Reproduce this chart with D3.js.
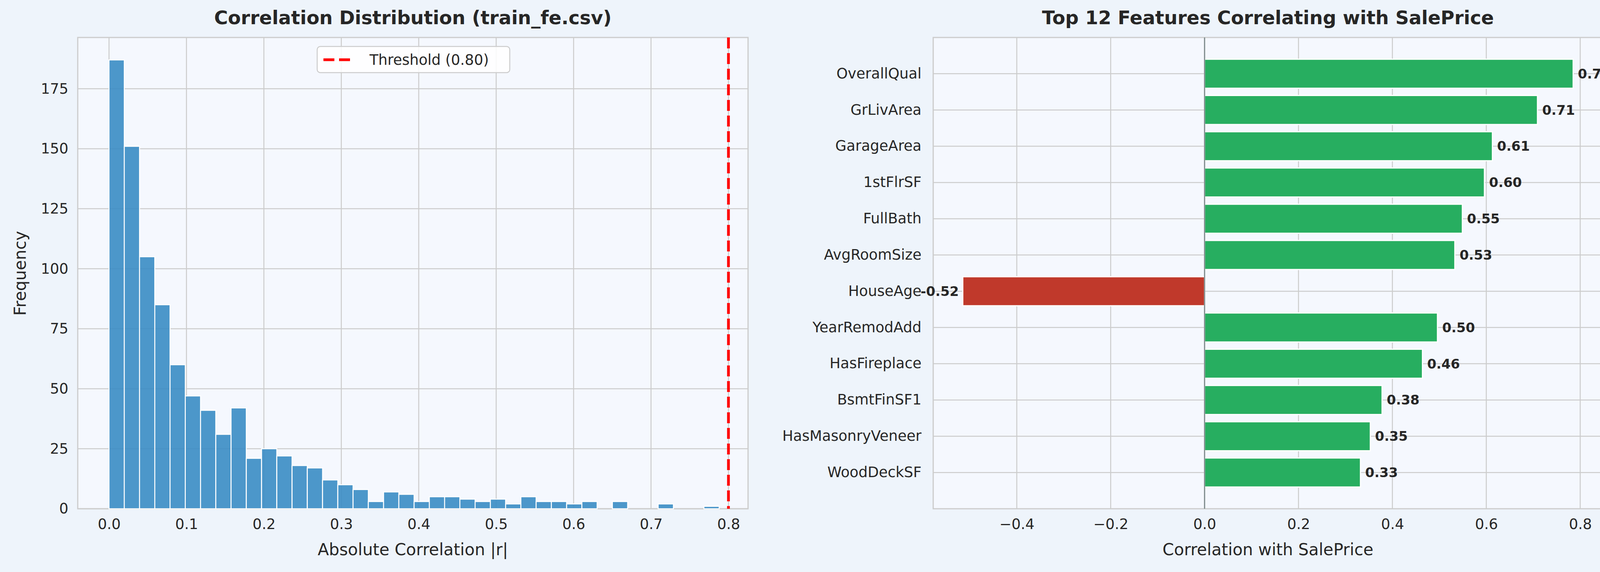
<!DOCTYPE html>
<html>
<head>
<meta charset="utf-8">
<script src="https://cdn.jsdelivr.net/npm/d3@7"></script>
<style>
  body { margin: 0; background: #eef4fb; }
  text { font-family: "DejaVu Sans", sans-serif; fill: #262626; }
</style>
</head>
<body>
<svg id="chart" width="4160" height="1465"></svg>
<script>
// histogram of |r| values, 40 bins
const binWidth = 0.0197;
const histCounts = [187, 151, 105, 85, 60, 47, 41, 31, 42, 21, 25, 22, 18, 17, 12, 10, 8, 3, 7, 6,
  3, 5, 5, 4, 3, 4, 2, 5, 3, 3, 2, 3, 0, 3, 0, 0, 2, 0, 0, 1];
const threshold = 0.8;
const histXTicks = [0, 0.1, 0.2, 0.3, 0.4, 0.5, 0.6, 0.7, 0.8];
const histYTicks = [0, 25, 50, 75, 100, 125, 150, 175];

// top features
const features = ["OverallQual", "GrLivArea", "GarageArea", "1stFlrSF", "FullBath", "AvgRoomSize",
  "HouseAge", "YearRemodAdd", "HasFireplace", "BsmtFinSF1", "HasMasonryVeneer", "WoodDeckSF"];
const corrValues = [0.785, 0.709, 0.613, 0.596, 0.549, 0.533, -0.515, 0.496, 0.464, 0.378, 0.353, 0.332];
const corrTicks = [-0.4, -0.2, 0, 0.2, 0.4, 0.6, 0.8];

const svg = d3.select("#chart");
const plotTop = 96, plotBottom = 1303;
const gridCol = "#cccccc";

function panel(x0, x1) {
  svg.append("rect").attr("x", x0).attr("y", plotTop).attr("width", x1 - x0).attr("height", plotBottom - plotTop)
    .attr("fill", "#f5f8fe").attr("stroke", gridCol).attr("stroke-width", 3);
}

// ---- left: histogram
const L0 = 199, L1 = 1915;
panel(L0, L1);
const hx = d3.scaleLinear().domain([-0.0404, 0.8253]).range([L0, L1]);
const hy = d3.scaleLinear().domain([0, 196.35]).range([plotBottom, plotTop]);
const gl = svg.append("g");
histXTicks.forEach(t => gl.append("line").attr("x1", hx(t)).attr("x2", hx(t)).attr("y1", plotTop).attr("y2", plotBottom)
  .attr("stroke", gridCol).attr("stroke-width", 2.5));
histYTicks.forEach(t => gl.append("line").attr("x1", L0).attr("x2", L1).attr("y1", hy(t)).attr("y2", hy(t))
  .attr("stroke", gridCol).attr("stroke-width", 2.5));

svg.append("g").selectAll("rect").data(histCounts).join("rect")
  .attr("x", (d, i) => hx(i * binWidth))
  .attr("width", hx(binWidth) - hx(0))
  .attr("y", d => hy(d))
  .attr("height", d => hy(0) - hy(d))
  .attr("fill", "#3a8cc4").attr("fill-opacity", 0.9)
  .attr("stroke", "#ffffff").attr("stroke-width", 2.5)
  .style("display", d => d > 0 ? null : "none");

svg.append("line").attr("x1", hx(threshold)).attr("x2", hx(threshold)).attr("y1", plotTop).attr("y2", plotBottom)
  .attr("stroke", "#ff0000").attr("stroke-width", 7).attr("stroke-dasharray", "28,12");

const xAxL = svg.append("g").attr("transform", `translate(0,${plotBottom})`)
  .call(d3.axisBottom(hx).tickValues(histXTicks).tickFormat(d3.format(".1f")).tickSize(0).tickPadding(26));
const yAxL = svg.append("g").attr("transform", `translate(${L0},0)`)
  .call(d3.axisLeft(hy).tickValues(histYTicks).tickSize(0).tickPadding(24));
[xAxL, yAxL].forEach(a => { a.select(".domain").remove(); a.selectAll("text").attr("font-size", 37).attr("fill", "#262626"); });

svg.append("text").attr("x", (L0 + L1) / 2).attr("y", 62).attr("text-anchor", "middle")
  .attr("font-size", 48).attr("font-weight", "bold").text("Correlation Distribution (train_fe.csv)");
svg.append("text").attr("x", (L0 + L1) / 2).attr("y", 1422).attr("text-anchor", "middle")
  .attr("font-size", 42).text("Absolute Correlation |r|");
svg.append("text").attr("transform", "translate(66,700) rotate(-90)").attr("text-anchor", "middle")
  .attr("font-size", 42).text("Frequency");

// legend
const lg = svg.append("g").attr("transform", "translate(812,119)");
lg.append("rect").attr("width", 493).attr("height", 67).attr("rx", 8).attr("fill", "#ffffff")
  .attr("fill-opacity", 0.85).attr("stroke", gridCol).attr("stroke-width", 2.5);
lg.append("line").attr("x1", 16).attr("x2", 92).attr("y1", 34).attr("y2", 34)
  .attr("stroke", "#ff0000").attr("stroke-width", 7).attr("stroke-dasharray", "28,12");
lg.append("text").attr("x", 134).attr("y", 47).attr("font-size", 37).text("Threshold (0.80)");

// ---- right: bar chart
const R0 = 2389, R1 = 4103;
panel(R0, R1);
const bx = d3.scaleLinear().domain([-0.578, 0.848]).range([R0, R1]);
const step = (plotBottom - plotTop) / 13;
const by = d3.scaleBand().domain(features).range([plotTop + step * 0.5, plotBottom - step * 0.5]).paddingInner(0.2).paddingOuter(0.1);
const gr = svg.append("g");
corrTicks.forEach(t => gr.append("line").attr("x1", bx(t)).attr("x2", bx(t)).attr("y1", plotTop).attr("y2", plotBottom)
  .attr("stroke", gridCol).attr("stroke-width", 2.5));
features.forEach(f => gr.append("line").attr("x1", R0).attr("x2", R1)
  .attr("y1", by(f) + by.bandwidth() / 2).attr("y2", by(f) + by.bandwidth() / 2)
  .attr("stroke", gridCol).attr("stroke-width", 2.5));

const bars = features.map((f, i) => ({ f, v: corrValues[i] }));
svg.append("g").selectAll("rect").data(bars).join("rect")
  .attr("x", d => bx(Math.min(0, d.v)))
  .attr("width", d => Math.abs(bx(d.v) - bx(0)))
  .attr("y", d => by(d.f)).attr("height", by.bandwidth())
  .attr("fill", d => d.v >= 0 ? "#27ae60" : "#c0392b")
  .attr("stroke", "#ffffff").attr("stroke-width", 3);

svg.append("line").attr("x1", bx(0)).attr("x2", bx(0)).attr("y1", plotTop).attr("y2", plotBottom)
  .attr("stroke", "#7f8c8d").attr("stroke-width", 3);

svg.append("g").selectAll("text").data(bars).join("text")
  .attr("x", d => d.v >= 0 ? bx(d.v) + 12 : bx(d.v) - 10)
  .attr("y", d => by(d.f) + by.bandwidth() / 2)
  .attr("dy", "0.35em")
  .attr("text-anchor", d => d.v >= 0 ? "start" : "end")
  .attr("font-size", 34).attr("font-weight", "bold")
  .text(d => d.v.toFixed(2));

const xAxR = svg.append("g").attr("transform", `translate(0,${plotBottom})`)
  .call(d3.axisBottom(bx).tickValues(corrTicks).tickFormat(d => d3.format(".1f")(d).replace("-", "\u2212")).tickSize(0).tickPadding(26));
const yAxR = svg.append("g").attr("transform", `translate(${R0},0)`)
  .call(d3.axisLeft(by).tickSize(0).tickPadding(30));
[xAxR, yAxR].forEach(a => { a.select(".domain").remove(); a.selectAll("text").attr("font-size", 37).attr("fill", "#262626"); });

svg.append("text").attr("x", (R0 + R1) / 2).attr("y", 62).attr("text-anchor", "middle")
  .attr("font-size", 48).attr("font-weight", "bold").text("Top 12 Features Correlating with SalePrice");
svg.append("text").attr("x", (R0 + R1) / 2).attr("y", 1422).attr("text-anchor", "middle")
  .attr("font-size", 42).text("Correlation with SalePrice");
</script>
</body>
</html>
